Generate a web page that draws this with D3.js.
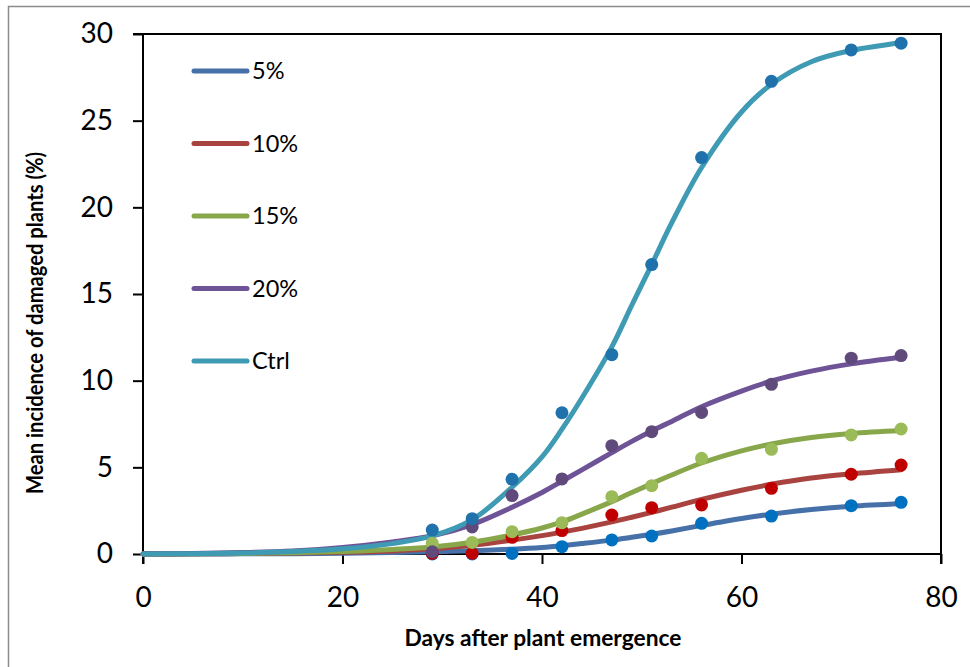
<!DOCTYPE html>
<html><head><meta charset="utf-8">
<script src="https://cdn.jsdelivr.net/npm/d3@7"></script>
<style>body{margin:0;background:#fff}svg{display:block}</style>
</head><body><svg id="c" width="970" height="667"></svg>
<script>
// Observed data (days after emergence)
const days = [29, 33, 37, 42, 47, 51, 56, 63, 71, 76];
const obs5 = [0, 0, 0.03, 0.42, 0.81, 1.04, 1.77, 2.19, 2.79, 2.98];
const obs10 = [0.04, 0.04, 0.96, 1.35, 2.25, 2.67, 2.83, 3.79, 4.6, 5.13];
const obs15 = [0.62, 0.67, 1.29, 1.81, 3.31, 3.94, 5.52, 6.04, 6.87, 7.21];
const obs20 = [0.13, 1.56, 3.37, 4.33, 6.25, 7.06, 8.17, 9.79, 11.3, 11.45];
const obsCtrl = [1.38, 2.04, 4.31, 8.15, 11.5, 16.7, 22.87, 27.27, 29.08, 29.47];

// Fitted curves
const curveDays = [0, 5, 10, 15, 20, 25, 29, 33, 37, 40, 42, 44, 47, 49, 51, 53, 56, 60, 63, 67, 71, 76];
const fit5 = [0, 0, 0.01, 0.02, 0.04, 0.08, 0.13, 0.19, 0.28, 0.38, 0.48, 0.6, 0.8, 0.97, 1.14, 1.33, 1.65, 2.05, 2.3, 2.57, 2.76, 2.9];
const fit10 = [0, 0.01, 0.03, 0.06, 0.1, 0.18, 0.3, 0.5, 0.8, 1.06, 1.26, 1.48, 1.85, 2.12, 2.4, 2.7, 3.15, 3.68, 4.02, 4.38, 4.62, 4.86];
const fit15 = [0, 0.01, 0.03, 0.07, 0.14, 0.26, 0.4, 0.68, 1.1, 1.5, 1.85, 2.3, 3.02, 3.55, 4.06, 4.56, 5.25, 5.95, 6.35, 6.72, 6.95, 7.12];
const fit20 = [0.01, 0.03, 0.08, 0.18, 0.38, 0.7, 1.05, 1.7, 2.7, 3.55, 4.2, 4.85, 5.85, 6.5, 7.1, 7.65, 8.5, 9.4, 9.98, 10.55, 10.97, 11.35];
const fitCtrl = [0, 0.02, 0.06, 0.14, 0.3, 0.6, 1.04, 1.98, 3.85, 5.6, 7.2, 9.0, 11.95, 14.35, 16.7, 19.1, 22.3, 25.5, 27.1, 28.4, 29.05, 29.5];

const seriesNames = ["5%", "10%", "15%", "20%", "Ctrl"];
const lineColors = ["#4670A8", "#A9433F", "#88A74B", "#6E5396", "#3F9AB3"];
const pointColors = ["#0070C0", "#C00000", "#9BBB59", "#604A7B", "#1F72AC"];
const xTicks = [0, 20, 40, 60, 80];
const yTicks = [0, 5, 10, 15, 20, 25, 30];

const obs = [obs5, obs10, obs15, obs20, obsCtrl];
const fits = [fit5, fit10, fit15, fit20, fitCtrl];

const svg = d3.select("#c");
const font = "Lato, 'Open Sans', sans-serif";

// outer chart border
svg.append("rect").attr("x", 8.5).attr("y", 6.5).attr("width", 980).attr("height", 680)
  .attr("fill", "#fff").attr("stroke", "#8c8c8c").attr("stroke-width", 1.5);

const x = d3.scaleLinear().domain([0, 80]).range([143, 941]);
const y = d3.scaleLinear().domain([0, 30]).range([554, 34]);

// plot frame (top/right)
svg.append("path")
  .attr("d", `M${x(0)},${y(30)}H${x(80)}V${y(0)}`)
  .attr("fill", "none").attr("stroke", "#000").attr("stroke-width", 2);

// axes
const xAxis = svg.append("g").attr("transform", `translate(0,${y(0)})`)
  .call(d3.axisBottom(x).tickValues(xTicks).tickSize(10).tickPadding(23).tickFormat(d3.format("d")));
const yAxis = svg.append("g").attr("transform", `translate(${x(0)},0)`)
  .call(d3.axisLeft(y).tickValues(yTicks).tickSize(10).tickPadding(20).tickFormat(d3.format("d")));
[xAxis, yAxis].forEach(g => {
  g.select(".domain").attr("stroke", "#000").attr("stroke-width", 2);
  g.selectAll(".tick line").attr("stroke", "#000").attr("stroke-width", 2);
  g.selectAll(".tick text").attr("font-family", font).attr("font-size", 28).attr("fill", "#000");
});
xAxis.select(".domain").attr("d", `M${x(0)},10V0H${x(80)}V10`);
yAxis.select(".domain").attr("d", `M-10,${y(30)}H0V${y(0)}`);

// axis titles
svg.append("text").attr("x", 543).attr("y", 646).attr("text-anchor", "middle")
  .attr("font-family", font).attr("font-weight", "bold").attr("font-size", 22)
  .attr("textLength", 277).attr("lengthAdjust", "spacingAndGlyphs")
  .text("Days after plant emergence");
svg.append("text").attr("transform", "translate(43,323) rotate(-90)").attr("text-anchor", "middle")
  .attr("font-family", font).attr("font-weight", "bold").attr("font-size", 22)
  .attr("textLength", 342).attr("lengthAdjust", "spacingAndGlyphs")
  .text("Mean incidence of damaged plants (%)");

// curves
const line = d3.line().x(d => x(d[0])).y(d => y(d[1])).curve(d3.curveCatmullRom.alpha(0.5));
fits.forEach((f, i) => {
  svg.append("path").datum(curveDays.map((d, j) => [d, f[j]]))
    .attr("d", line).attr("fill", "none").attr("stroke", lineColors[i])
    .attr("stroke-width", 5).attr("stroke-linecap", "round");
});
// points
obs.forEach((o, i) => {
  svg.append("g").selectAll("circle").data(days.map((d, j) => [d, o[j]])).join("circle")
    .attr("cx", d => x(d[0])).attr("cy", d => y(d[1])).attr("r", 6.5).attr("fill", pointColors[i]);
});

// legend
const leg = svg.append("g");
seriesNames.forEach((n, i) => {
  const ly = 71 + i * 72.5;
  leg.append("line").attr("x1", 194).attr("x2", 247).attr("y1", ly).attr("y2", ly)
    .attr("stroke", lineColors[i]).attr("stroke-width", 5).attr("stroke-linecap", "round");
  leg.append("text").attr("x", 252).attr("y", ly).attr("dy", "0.36em")
    .attr("font-family", font).attr("font-size", 23.5).attr("fill", "#000").text(n);
});
</script></body></html>
